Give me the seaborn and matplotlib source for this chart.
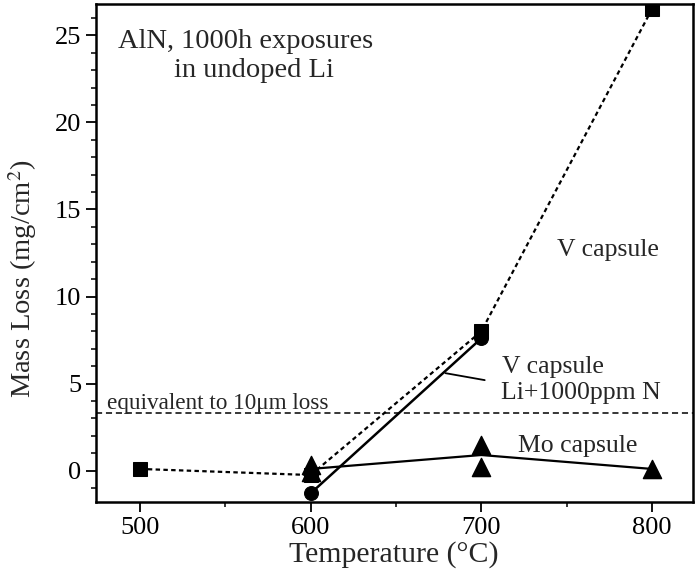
import matplotlib
matplotlib.use("Agg")
import matplotlib.pyplot as plt
import seaborn as sns
import pandas as pd
from matplotlib.ticker import MultipleLocator

sns.set_theme(style="ticks")
plt.rcParams['font.family'] = ['Liberation Serif', 'DejaVu Serif']
plt.rcParams['mathtext.fontset'] = 'stix'

# V capsule, undoped Li
v_temp = [500, 600, 700, 800]
v_loss = [0.1, -0.25, 8.0, 26.5]
# V capsule, Li + 1000 ppm N
vn_temp = [600, 700]
vn_loss = [-1.3, 7.6]
# Mo capsule (individual specimens)
mo_temp = [600, 600, 700, 700, 800]
mo_loss = [0.3, -0.1, 1.5, 0.2, 0.1]
# Mo capsule trend line (averages)
mo_line_temp = [600, 700, 800]
mo_line_loss = [0.1, 0.9, 0.1]
equiv_10um = 3.3

x_ticks = [500, 600, 700, 800]
y_ticks = [0, 5, 10, 15, 20, 25]

fig = plt.figure(figsize=(6.96, 5.86), dpi=100)
ax = fig.add_axes([0.1375, 0.1433, 0.858, 0.8499])

dv = pd.DataFrame({"T": v_temp, "L": v_loss})
dvn = pd.DataFrame({"T": vn_temp, "L": vn_loss})
dmo = pd.DataFrame({"T": mo_temp, "L": mo_loss})
dmol = pd.DataFrame({"T": mo_line_temp, "L": mo_line_loss})

ax.axhline(equiv_10um, color='black', lw=1.1, ls=(0, (4, 2.5)), zorder=1)

sns.lineplot(data=dv, x="T", y="L", ax=ax, color='black', lw=1.6,
             linestyle=(0, (2, 1.5)), marker='s', markersize=10,
             markeredgecolor='black', zorder=3)
sns.lineplot(data=dvn, x="T", y="L", ax=ax, color='black', lw=1.8,
             marker='o', markersize=10, markeredgecolor='black', zorder=3)
sns.lineplot(data=dmol, x="T", y="L", ax=ax, color='black', lw=1.6, zorder=2)
sns.scatterplot(data=dmo, x="T", y="L", ax=ax, color='black', marker='^',
                s=170, edgecolor='black', zorder=4)

# pointer line for the N-doped label
ax.plot([679, 702], [5.6, 5.2], color='black', lw=1.3)

fs = 18.5
ax.text(487.1, 24.25, "AlN, 1000h exposures", ha='left', va='baseline',
        fontsize=20.5)
ax.text(520.1, 22.6, "in undoped Li", ha='left', va='baseline',
        fontsize=20.5)
ax.text(744.2, 12.3, "V capsule", ha='left', va='baseline', fontsize=fs)
ax.text(712.2, 5.6, "V capsule", ha='left', va='baseline', fontsize=fs)
ax.text(711.5, 4.1, "Li+1000ppm N", ha='left', va='baseline', fontsize=fs)
ax.text(480.9, 3.55, "equivalent to 10\u03bcm loss", ha='left',
        va='baseline', fontsize=16.7)
ax.text(721.8, 1.05, "Mo capsule", ha='left', va='baseline', fontsize=fs)

ax.set_xlim(474, 824)
ax.set_ylim(-1.8, 26.8)
ax.set_xticks(x_ticks)
ax.set_yticks(y_ticks)
ax.xaxis.set_minor_locator(MultipleLocator(50))
ax.yaxis.set_minor_locator(MultipleLocator(1))
ax.tick_params(which='major', direction='out', length=7, width=1.3,
               labelsize=19, colors='black')
ax.tick_params(which='minor', direction='out', length=3.5, width=1.3)
for sp in ax.spines.values():
    sp.set_linewidth(1.8)
    sp.set_color('black')

ax.set_xlabel("Temperature (\u00b0C)", fontsize=21.5, labelpad=2)
ax.set_ylabel("Mass Loss (mg/cm$^2$)", fontsize=20.5)
ax.yaxis.set_label_coords(-0.095, 0.448)

fig.savefig("out.png", dpi=100)
